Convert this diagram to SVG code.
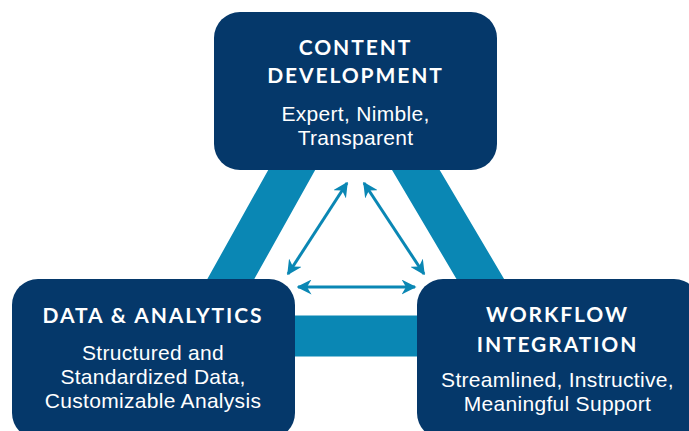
<svg xmlns="http://www.w3.org/2000/svg" width="689" height="431" viewBox="0 0 689 431">
<defs>
<style>
.box{fill:#05386a;}
.band{fill:none;stroke:#0a87b4;stroke-width:41;stroke-linejoin:miter;}
.conn{stroke:#0a87b4;stroke-width:3;fill:none;}
.title{font-family:Lato,"Noto Sans",sans-serif;font-weight:bold;font-size:21px;letter-spacing:1.9px;fill:#ffffff;text-anchor:middle;}
.sub{font-family:"Liberation Sans",Arial,sans-serif;font-size:21px;letter-spacing:0.3px;fill:#ffffff;text-anchor:middle;}
</style>
<marker id="ah" viewBox="0 0 10 10" refX="9" refY="5" markerWidth="5" markerHeight="5" orient="auto-start-reverse" markerUnits="strokeWidth">
<path d="M0,0 L10,5 L0,10 L3,5 Z" fill="#0a87b4"/>
</marker>
</defs>
<polygon class="band" points="352,62 514,336 199,336"/>
<g id="connectors">
<line class="conn" x1="347" y1="183" x2="288" y2="274" marker-start="url(#ah)" marker-end="url(#ah)"/>
<line class="conn" x1="364" y1="183" x2="424" y2="274" marker-start="url(#ah)" marker-end="url(#ah)"/>
<line class="conn" x1="298" y1="287" x2="415" y2="287" marker-start="url(#ah)" marker-end="url(#ah)"/>
</g>
<g id="content-development">
<rect class="box" x="214" y="12" width="283" height="158" rx="26"/>
<text class="title" x="355.5" y="55">CONTENT</text>
<text class="title" x="355.5" y="83">DEVELOPMENT</text>
<text class="sub" x="355.5" y="121">Expert, Nimble,</text>
<text class="sub" x="355.5" y="145">Transparent</text>
</g>
<g id="data-analytics">
<rect class="box" x="12" y="279" width="283" height="160" rx="26"/>
<text class="title" x="153" y="323">DATA &amp; ANALYTICS</text>
<text class="sub" x="153" y="360">Structured and</text>
<text class="sub" x="153" y="384">Standardized Data,</text>
<text class="sub" x="153" y="408">Customizable Analysis</text>
</g>
<g id="workflow-integration">
<rect class="box" x="417" y="279" width="283" height="160" rx="26"/>
<text class="title" x="557.5" y="322">WORKFLOW</text>
<text class="title" x="557.5" y="352">INTEGRATION</text>
<text class="sub" x="557.5" y="387">Streamlined, Instructive,</text>
<text class="sub" x="557.5" y="411">Meaningful Support</text>
</g>
</svg>
